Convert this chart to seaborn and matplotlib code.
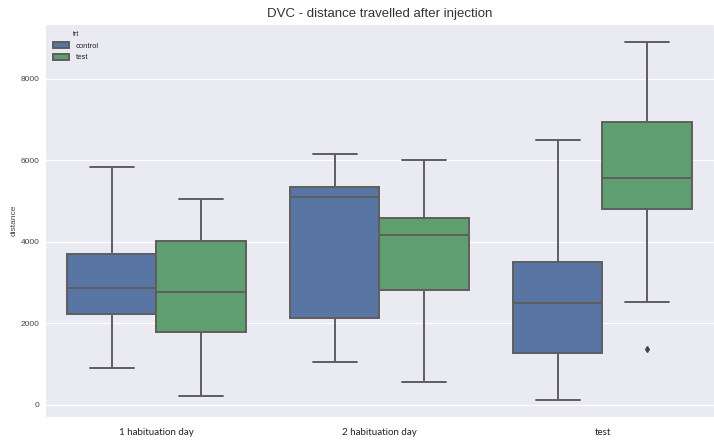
import pandas as pd
import numpy as np
import matplotlib
matplotlib.use('Agg')
import matplotlib.pyplot as plt
import seaborn as sns

########################### Data #################################################

days = ['1 habituation day', '2 habituation day', 'test']
groups = ['control', 'test']

# raw distances per day / treatment (min, q1, median, q3, max style samples)
hab1_control = [891, 2226, 2864, 3706, 5833]
hab1_test = [204, 1784, 2765, 4017, 5038]
hab2_control = [1038, 2118, 5104, 5350, 6160]
hab2_test = [556, 2822, 4172, 4581, 6004]
test_control = [123, 1268, 2487, 3501, 6486]
# one low outlier in the test group
test_test = [1367, 2511, 4802, 5150, 5554, 6300, 6928, 7900, 8908]

colors = ['#4C72B0', '#55A868']

# build long table for seaborn
rows = []
for day, ctrl, trt in [(days[0], hab1_control, hab1_test),
                       (days[1], hab2_control, hab2_test),
                       (days[2], test_control, test_test)]:
    for v in ctrl:
        rows.append({'day': day, 'trt': 'control', 'distance': v})
    for v in trt:
        rows.append({'day': day, 'trt': 'test', 'distance': v})
df = pd.DataFrame(rows)

########################### Plot ############################

sns.set_style('darkgrid')
plt.rcParams['font.family'] = ['Liberation Sans', 'DejaVu Sans']

fig = plt.figure(figsize=(7.14, 4.41), dpi=100)
ax = fig.add_axes([0.063, 0.055, 0.937, 0.891])

sns.boxplot(data=df, x='day', y='distance', hue='trt', order=days,
            hue_order=groups, palette=colors, saturation=0.75,
            linecolor='#5e5e5e', linewidth=1.4, ax=ax,
            flierprops={'marker': 'd', 'markersize': 3,
                        'markerfacecolor': '#444444',
                        'markeredgecolor': '#444444'})

ax.set_ylim(-295, 9350)
ax.set_xlim(-0.5, 2.5)
ax.set_yticks([0, 2000, 4000, 6000, 8000])
ax.grid(False, axis='x')
ax.tick_params(axis='y', labelsize=6, labelcolor='#444444', pad=4, length=0)
ax.tick_params(axis='x', length=0, pad=8)
for lab in ax.get_xticklabels():
    lab.set_fontfamily('Lato')
    lab.set_fontsize(7)
    lab.set_color('#222222')

ax.set_xlabel('')
ax.set_ylabel('distance', fontsize=6, color='#444444', labelpad=2)
ax.set_title('DVC - distance travelled after injection', fontsize=9.5,
             color='#333333', pad=5)

leg = ax.legend(title='trt', loc='upper left', fontsize=5.5,
                title_fontsize=5, frameon=False, handlelength=2.2,
                handleheight=0.8, borderaxespad=0.6)

fig.savefig('out.png', dpi=100)
